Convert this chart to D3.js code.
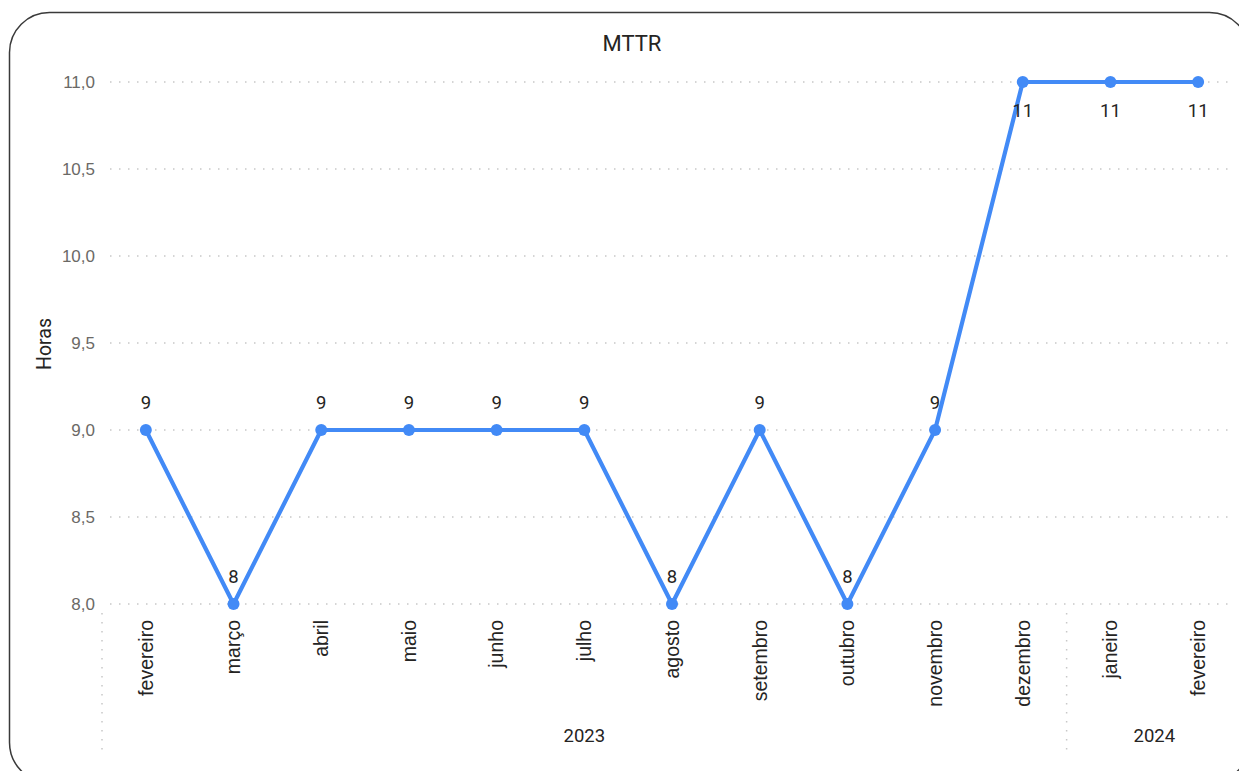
<!DOCTYPE html>
<html>
<head>
<meta charset="utf-8">
<script src="https://cdn.jsdelivr.net/npm/d3@7"></script>
<style>
  html, body { margin: 0; padding: 0; background: #fff; }
  svg { display: block; font-family: Roboto, "Open Sans", "Noto Sans", sans-serif; }
</style>
</head>
<body>
<svg id="chart" width="1239" height="771"></svg>
<script>
// MTTR per month (hours)
const months = ["fevereiro", "março", "abril", "maio", "junho", "julho", "agosto",
                "setembro", "outubro", "novembro", "dezembro", "janeiro", "fevereiro"];
const years = ["2023", "2023", "2023", "2023", "2023", "2023", "2023",
               "2023", "2023", "2023", "2023", "2024", "2024"];
const mttr = [9, 8, 9, 9, 9, 9, 8, 9, 8, 9, 11, 11, 11];
const yTicks = [8.0, 8.5, 9.0, 9.5, 10.0, 10.5, 11.0];

const svg = d3.select("#chart");
const ink = "#252423";

// card frame
svg.append("rect")
  .attr("x", 9.5).attr("y", 12.5)
  .attr("width", 1240).attr("height", 770)
  .attr("rx", 40).attr("ry", 40)
  .attr("fill", "#fff").attr("stroke", "#3a3a3a").attr("stroke-width", 1.5);

const plotLeft = 102, plotRight = 1242, plotTop = 82, plotBottom = 604;
const keys = months.map((m, i) => i);

const x = d3.scaleBand().domain(keys).range([plotLeft, plotRight]);
const y = d3.scaleLinear().domain([8, 11]).range([plotBottom, plotTop]);

// title
svg.append("text")
  .attr("x", 632).attr("y", 51)
  .attr("text-anchor", "middle")
  .attr("font-size", 22).attr("fill", ink)
  .text("MTTR");

// y labels
const yAxis = d3.axisLeft(y).tickValues(yTicks)
  .tickFormat(d => d3.format(".1f")(d).replace(".", ","))
  .tickSize(0).tickPadding(0);
const gy = svg.append("g").attr("transform", "translate(95,0)").call(yAxis);
gy.select(".domain").remove();
gy.selectAll("text").attr("font-size", 17).attr("fill", "#6b6966")
  .attr("font-family", "inherit");

// horizontal grid
svg.append("g").selectAll("line").data(yTicks).join("line")
  .attr("x1", 110).attr("x2", 1235)
  .attr("y1", d => y(d)).attr("y2", d => y(d))
  .attr("stroke", "#c8c8c8").attr("stroke-width", 1.5)
  .attr("stroke-dasharray", "1.5,7.5");

// y axis title
svg.append("text")
  .attr("transform", "translate(51,344) rotate(-90)")
  .attr("text-anchor", "middle")
  .attr("font-size", 19.5).attr("fill", ink)
  .text("Horas");

// month labels
const xAxis = d3.axisBottom(x).tickFormat(i => months[i]).tickSize(0).tickPadding(0);
const gx = svg.append("g").attr("transform", `translate(0,${plotBottom})`).call(xAxis);
gx.select(".domain").remove();
gx.selectAll("text")
  .attr("font-size", 19.5).attr("fill", ink).attr("font-family", "inherit")
  .attr("text-anchor", "end")
  .attr("dy", "0.35em")
  .attr("transform", "translate(0,16) rotate(-90)")
  .attr("x", 0).attr("y", 0);

// year groups
const yearGroups = d3.groups(keys, i => years[i]).map(([yr, idx]) => ({
  yr, x0: x(idx[0]), x1: x(idx[idx.length - 1]) + x.bandwidth()
}));
const seps = [plotLeft, yearGroups[1].x0];
svg.append("g").selectAll("line").data(seps).join("line")
  .attr("x1", d => d).attr("x2", d => d)
  .attr("y1", 613).attr("y2", 752)
  .attr("stroke", "#c8c8c8").attr("stroke-width", 1.5)
  .attr("stroke-dasharray", "1.5,7.5");
svg.append("g").selectAll("text").data(yearGroups).join("text")
  .attr("x", d => (d.x0 + d.x1) / 2)
  .attr("y", 742)
  .attr("text-anchor", "middle")
  .attr("font-size", 18.5).attr("fill", ink)
  .text(d => d.yr);

// line + markers
const cx = i => x(i) + x.bandwidth() / 2;
const blue = "#428AF6";
svg.append("path")
  .datum(keys)
  .attr("fill", "none").attr("stroke", blue).attr("stroke-width", 4.2)
  .attr("stroke-linejoin", "round")
  .attr("d", d3.line().x(i => cx(i)).y(i => y(mttr[i])));
svg.append("g").selectAll("circle").data(keys).join("circle")
  .attr("cx", i => cx(i)).attr("cy", i => y(mttr[i])).attr("r", 6)
  .attr("fill", blue);

// data labels
svg.append("g").selectAll("text").data(keys).join("text")
  .attr("x", i => cx(i))
  .attr("y", i => mttr[i] >= 11 ? y(mttr[i]) + 35 : y(mttr[i]) - 21)
  .attr("text-anchor", "middle")
  .attr("font-size", 18.5).attr("fill", ink)
  .text(i => mttr[i]);
</script>
</body>
</html>
